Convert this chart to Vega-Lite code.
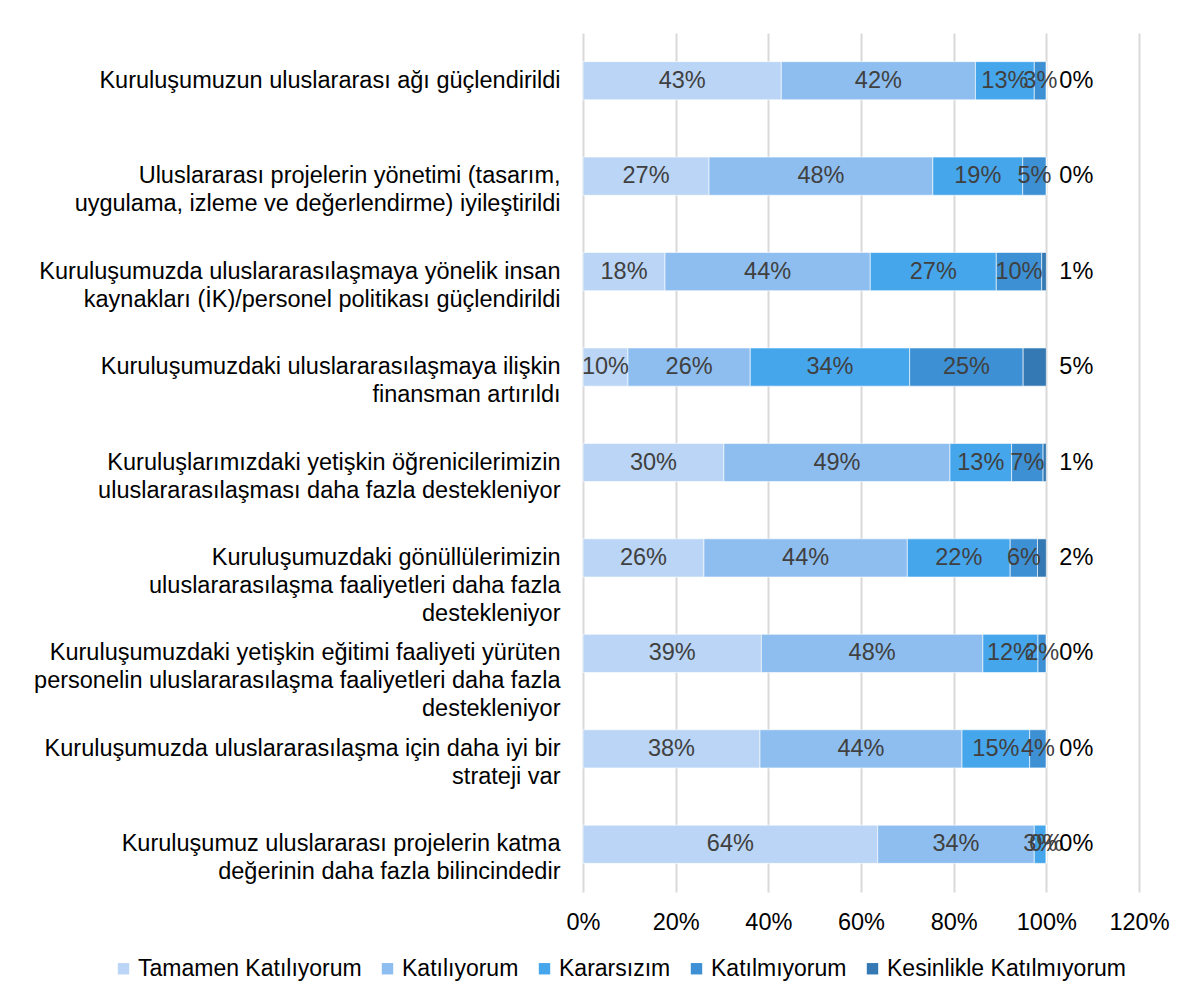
{
  "$schema": "https://vega.github.io/schema/vega-lite/v6.json",
  "autosize": "none",
  "width": 556,
  "height": 859,
  "padding": {"left": 583, "top": 33, "right": 53, "bottom": 116},
  "background": "#ffffff",
  "config": {
    "view": {"stroke": null},
    "font": "Liberation Sans"
  },
  "data": {
    "values": [
      {"q": "Kuruluşumuzun uluslararası ağı güçlendirildi", "s": "Tamamen Katılıyorum", "k": 1, "v": 0.428},
      {"q": "Kuruluşumuzun uluslararası ağı güçlendirildi", "s": "Katılıyorum", "k": 2, "v": 0.419},
      {"q": "Kuruluşumuzun uluslararası ağı güçlendirildi", "s": "Kararsızım", "k": 3, "v": 0.127},
      {"q": "Kuruluşumuzun uluslararası ağı güçlendirildi", "s": "Katılmıyorum", "k": 4, "v": 0.026},
      {"q": "Kuruluşumuzun uluslararası ağı güçlendirildi", "s": "Kesinlikle Katılmıyorum", "k": 5, "v": 0.0},
      {"q": "Uluslararası projelerin yönetimi (tasarım,|uygulama, izleme ve değerlendirme) iyileştirildi", "s": "Tamamen Katılıyorum", "k": 1, "v": 0.272},
      {"q": "Uluslararası projelerin yönetimi (tasarım,|uygulama, izleme ve değerlendirme) iyileştirildi", "s": "Katılıyorum", "k": 2, "v": 0.483},
      {"q": "Uluslararası projelerin yönetimi (tasarım,|uygulama, izleme ve değerlendirme) iyileştirildi", "s": "Kararsızım", "k": 3, "v": 0.194},
      {"q": "Uluslararası projelerin yönetimi (tasarım,|uygulama, izleme ve değerlendirme) iyileştirildi", "s": "Katılmıyorum", "k": 4, "v": 0.051},
      {"q": "Uluslararası projelerin yönetimi (tasarım,|uygulama, izleme ve değerlendirme) iyileştirildi", "s": "Kesinlikle Katılmıyorum", "k": 5, "v": 0.0},
      {"q": "Kuruluşumuzda uluslararasılaşmaya yönelik insan|kaynakları (İK)/personel politikası güçlendirildi", "s": "Tamamen Katılıyorum", "k": 1, "v": 0.177},
      {"q": "Kuruluşumuzda uluslararasılaşmaya yönelik insan|kaynakları (İK)/personel politikası güçlendirildi", "s": "Katılıyorum", "k": 2, "v": 0.443},
      {"q": "Kuruluşumuzda uluslararasılaşmaya yönelik insan|kaynakları (İK)/personel politikası güçlendirildi", "s": "Kararsızım", "k": 3, "v": 0.272},
      {"q": "Kuruluşumuzda uluslararasılaşmaya yönelik insan|kaynakları (İK)/personel politikası güçlendirildi", "s": "Katılmıyorum", "k": 4, "v": 0.098},
      {"q": "Kuruluşumuzda uluslararasılaşmaya yönelik insan|kaynakları (İK)/personel politikası güçlendirildi", "s": "Kesinlikle Katılmıyorum", "k": 5, "v": 0.010},
      {"q": "Kuruluşumuzdaki uluslararasılaşmaya ilişkin|finansman artırıldı", "s": "Tamamen Katılıyorum", "k": 1, "v": 0.097},
      {"q": "Kuruluşumuzdaki uluslararasılaşmaya ilişkin|finansman artırıldı", "s": "Katılıyorum", "k": 2, "v": 0.264},
      {"q": "Kuruluşumuzdaki uluslararasılaşmaya ilişkin|finansman artırıldı", "s": "Kararsızım", "k": 3, "v": 0.344},
      {"q": "Kuruluşumuzdaki uluslararasılaşmaya ilişkin|finansman artırıldı", "s": "Katılmıyorum", "k": 4, "v": 0.245},
      {"q": "Kuruluşumuzdaki uluslararasılaşmaya ilişkin|finansman artırıldı", "s": "Kesinlikle Katılmıyorum", "k": 5, "v": 0.050},
      {"q": "Kuruluşlarımızdaki yetişkin öğrenicilerimizin|uluslararasılaşması daha fazla destekleniyor", "s": "Tamamen Katılıyorum", "k": 1, "v": 0.304},
      {"q": "Kuruluşlarımızdaki yetişkin öğrenicilerimizin|uluslararasılaşması daha fazla destekleniyor", "s": "Katılıyorum", "k": 2, "v": 0.488},
      {"q": "Kuruluşlarımızdaki yetişkin öğrenicilerimizin|uluslararasılaşması daha fazla destekleniyor", "s": "Kararsızım", "k": 3, "v": 0.133},
      {"q": "Kuruluşlarımızdaki yetişkin öğrenicilerimizin|uluslararasılaşması daha fazla destekleniyor", "s": "Katılmıyorum", "k": 4, "v": 0.068},
      {"q": "Kuruluşlarımızdaki yetişkin öğrenicilerimizin|uluslararasılaşması daha fazla destekleniyor", "s": "Kesinlikle Katılmıyorum", "k": 5, "v": 0.007},
      {"q": "Kuruluşumuzdaki gönüllülerimizin|uluslararasılaşma faaliyetleri daha fazla|destekleniyor", "s": "Tamamen Katılıyorum", "k": 1, "v": 0.261},
      {"q": "Kuruluşumuzdaki gönüllülerimizin|uluslararasılaşma faaliyetleri daha fazla|destekleniyor", "s": "Katılıyorum", "k": 2, "v": 0.439},
      {"q": "Kuruluşumuzdaki gönüllülerimizin|uluslararasılaşma faaliyetleri daha fazla|destekleniyor", "s": "Kararsızım", "k": 3, "v": 0.222},
      {"q": "Kuruluşumuzdaki gönüllülerimizin|uluslararasılaşma faaliyetleri daha fazla|destekleniyor", "s": "Katılmıyorum", "k": 4, "v": 0.059},
      {"q": "Kuruluşumuzdaki gönüllülerimizin|uluslararasılaşma faaliyetleri daha fazla|destekleniyor", "s": "Kesinlikle Katılmıyorum", "k": 5, "v": 0.019},
      {"q": "Kuruluşumuzdaki yetişkin eğitimi faaliyeti yürüten|personelin uluslararasılaşma faaliyetleri daha fazla|destekleniyor", "s": "Tamamen Katılıyorum", "k": 1, "v": 0.385},
      {"q": "Kuruluşumuzdaki yetişkin eğitimi faaliyeti yürüten|personelin uluslararasılaşma faaliyetleri daha fazla|destekleniyor", "s": "Katılıyorum", "k": 2, "v": 0.478},
      {"q": "Kuruluşumuzdaki yetişkin eğitimi faaliyeti yürüten|personelin uluslararasılaşma faaliyetleri daha fazla|destekleniyor", "s": "Kararsızım", "k": 3, "v": 0.119},
      {"q": "Kuruluşumuzdaki yetişkin eğitimi faaliyeti yürüten|personelin uluslararasılaşma faaliyetleri daha fazla|destekleniyor", "s": "Katılmıyorum", "k": 4, "v": 0.018},
      {"q": "Kuruluşumuzdaki yetişkin eğitimi faaliyeti yürüten|personelin uluslararasılaşma faaliyetleri daha fazla|destekleniyor", "s": "Kesinlikle Katılmıyorum", "k": 5, "v": 0.0},
      {"q": "Kuruluşumuzda uluslararasılaşma için daha iyi bir|strateji var", "s": "Tamamen Katılıyorum", "k": 1, "v": 0.382},
      {"q": "Kuruluşumuzda uluslararasılaşma için daha iyi bir|strateji var", "s": "Katılıyorum", "k": 2, "v": 0.436},
      {"q": "Kuruluşumuzda uluslararasılaşma için daha iyi bir|strateji var", "s": "Kararsızım", "k": 3, "v": 0.146},
      {"q": "Kuruluşumuzda uluslararasılaşma için daha iyi bir|strateji var", "s": "Katılmıyorum", "k": 4, "v": 0.036},
      {"q": "Kuruluşumuzda uluslararasılaşma için daha iyi bir|strateji var", "s": "Kesinlikle Katılmıyorum", "k": 5, "v": 0.0},
      {"q": "Kuruluşumuz uluslararası projelerin katma|değerinin daha fazla bilincindedir", "s": "Tamamen Katılıyorum", "k": 1, "v": 0.636},
      {"q": "Kuruluşumuz uluslararası projelerin katma|değerinin daha fazla bilincindedir", "s": "Katılıyorum", "k": 2, "v": 0.338},
      {"q": "Kuruluşumuz uluslararası projelerin katma|değerinin daha fazla bilincindedir", "s": "Kararsızım", "k": 3, "v": 0.026},
      {"q": "Kuruluşumuz uluslararası projelerin katma|değerinin daha fazla bilincindedir", "s": "Katılmıyorum", "k": 4, "v": 0.0},
      {"q": "Kuruluşumuz uluslararası projelerin katma|değerinin daha fazla bilincindedir", "s": "Kesinlikle Katılmıyorum", "k": 5, "v": 0.0}
    ]
  },
  "encoding": {
    "y": {
      "field": "q",
      "type": "nominal",
      "sort": null,
      "scale": {"paddingInner": 0.6, "paddingOuter": 0.3},
      "axis": {
        "title": null,
        "domain": false,
        "ticks": false,
        "labelExpr": "split(datum.label, '|')",
        "labelFontSize": 23.5,
        "labelLineHeight": 28,
        "labelColor": "#000000",
        "labelPadding": 23,
        "labelLimit": 700
      }
    }
  },
  "layer": [
    {
      "mark": {"type": "bar", "stroke": "#ffffff", "strokeWidth": 0.6},
      "encoding": {
        "x": {
          "field": "v",
          "type": "quantitative",
          "stack": "zero",
          "scale": {"domain": [0, 1.2], "nice": false},
          "axis": {
            "title": null,
            "values": [0, 0.2, 0.4, 0.6, 0.8, 1.0, 1.2],
            "format": ".0%",
            "domain": false,
            "ticks": false,
            "grid": true,
            "gridColor": "#d9d9d9",
            "gridWidth": 2,
            "labelFontSize": 23.5,
            "labelColor": "#000000",
            "labelPadding": 18,
            "labelFlush": false,
            "labelOverlap": false
          }
        },
        "order": {"field": "k", "type": "quantitative"},
        "color": {
          "field": "s",
          "type": "nominal",
          "scale": {
            "domain": ["Tamamen Katılıyorum", "Katılıyorum", "Kararsızım", "Katılmıyorum", "Kesinlikle Katılmıyorum"],
            "range": ["#bad5f5", "#8ebeef", "#46a6ec", "#3d90d4", "#3479b3"]
          },
          "legend": {
            "title": null,
            "orient": "none",
            "direction": "horizontal",
            "legendX": -471,
            "legendY": 924,
            "symbolType": "square",
            "symbolSize": 130,
            "symbolStrokeWidth": 0,
            "labelFontSize": 23,
            "labelLimit": 400,
            "labelColor": "#000000",
            "labelOffset": 3,
            "columnPadding": 14
          }
        }
      }
    },
    {
      "mark": {"type": "text", "fontSize": 23.5, "color": "#404040", "align": "center", "baseline": "middle"},
      "encoding": {
        "x": {"field": "v", "type": "quantitative", "stack": "zero", "bandPosition": 0.5},
        "order": {"field": "k", "type": "quantitative"},
        "detail": {"field": "s"},
        "text": {
          "condition": {"test": "datum.k == 5", "value": ""},
          "field": "v",
          "type": "quantitative",
          "format": ".0%"
        }
      }
    },
    {
      "mark": {"type": "text", "fontSize": 23.5, "color": "#000000", "align": "left", "baseline": "middle", "dx": 13},
      "encoding": {
        "x": {"field": "v", "type": "quantitative", "stack": "zero"},
        "order": {"field": "k", "type": "quantitative"},
        "detail": {"field": "s"},
        "text": {
          "condition": {"test": "datum.k != 5", "value": ""},
          "field": "v",
          "type": "quantitative",
          "format": ".0%"
        }
      }
    }
  ]
}
